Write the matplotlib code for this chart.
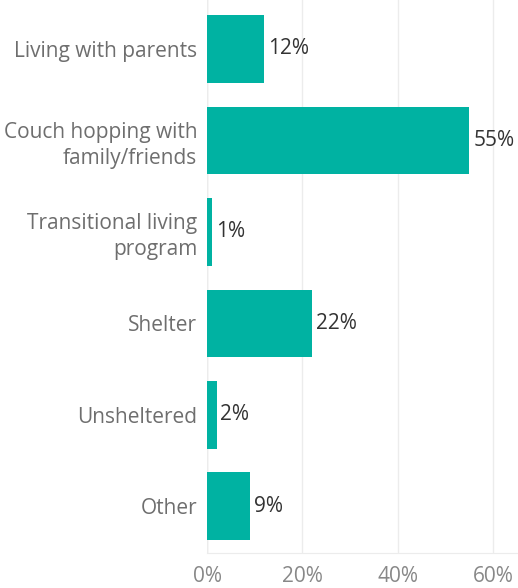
import matplotlib.pyplot as plt
import numpy as np

plt.rcParams['font.family'] = ['Open Sans', 'DejaVu Sans']

categories = ['Living with parents', 'Couch hopping with\nfamily/friends',
              'Transitional living\nprogram', 'Shelter', 'Unsheltered', 'Other']
values = [12, 55, 1, 22, 2, 9]
ticks = [0, 20, 40, 60]
tick_labels = ['0%', '20%', '40%', '60%']

bar_color = '#00b2a2'

fig = plt.figure(figsize=(5.18, 5.88), dpi=100)
ax = fig.add_axes([207/518, 35/588, 1 - 207/518, 553/588])

y = np.arange(len(categories))
ax.barh(y, values, height=0.74, color=bar_color, zorder=3)
for yi, v in zip(y, values):
    ax.text(v + 0.8, yi, f'{v}%', va='center', ha='left', fontsize=15, color='#333333', zorder=4)

ax.set_xlim(0, 65.2)
ax.set_ylim(len(categories) - 0.49, -0.535)
ax.set_xticks(ticks)
ax.set_xticklabels(tick_labels, fontsize=15, color='#888888')
ax.set_yticks(y)
ax.set_yticklabels(categories, fontsize=15, color='#6e6e6e', linespacing=1.3)
ax.tick_params(axis='y', length=0, pad=7)
ax.tick_params(axis='x', length=0, pad=9)

ax.grid(axis='x', color='#ececec', linewidth=1, zorder=0)
for s in ['top', 'right', 'left']:
    ax.spines[s].set_visible(False)
ax.spines['bottom'].set_color('#ececec')
ax.axvline(0, color='#e4e4e4', linewidth=1, zorder=1)

fig.savefig('out.png', dpi=100)
